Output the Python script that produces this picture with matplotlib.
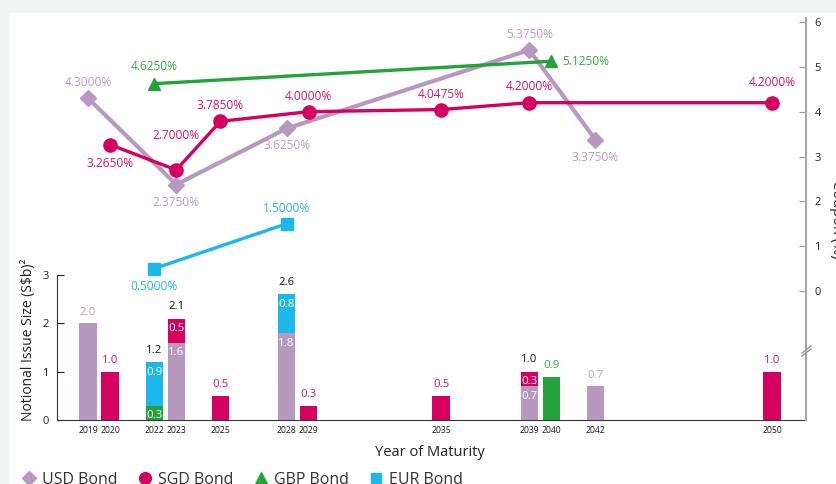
import numpy as np
import matplotlib.pyplot as plt
from matplotlib.lines import Line2D
from matplotlib.patches import Rectangle

plt.rcParams['font.family'] = ['Open Sans', 'DejaVu Sans']

# notional issue size (S$b) by year of maturity
usd_bar_years = [2019, 2023, 2028, 2039, 2042]
usd_bar_vals = [2.0, 1.6, 1.8, 0.7, 0.7]
gbp_bar_years = [2022, 2040]
gbp_bar_vals = [0.3, 0.9]
sgd_bar_years = [2020, 2023, 2025, 2029, 2035, 2039, 2050]
sgd_bar_vals = [1.0, 0.5, 0.5, 0.3, 0.5, 0.3, 1.0]
eur_bar_years = [2022, 2028]
eur_bar_vals = [0.9, 0.8]

# coupon (%)
usd_cpn_years = [2019, 2023, 2028, 2039, 2042]
usd_cpn = [4.300, 2.375, 3.625, 5.375, 3.375]
sgd_cpn_years = [2020, 2023, 2025, 2029, 2035, 2039, 2050]
sgd_cpn = [3.265, 2.700, 3.785, 4.000, 4.0475, 4.200, 4.200]
gbp_cpn_years = [2022, 2040]
gbp_cpn = [4.625, 5.125]
eur_cpn_years = [2022, 2028]
eur_cpn = [0.500, 1.500]

tick_years = [2019, 2020, 2022, 2023, 2025, 2028, 2029, 2035, 2039, 2040, 2042, 2050]

USD = '#b799c0'
SGD = '#d5005f'
GBP = '#23a33a'
EUR = '#1cb8ea'
USD_T = '#b99dc4'
SGD_T = '#dc1369'
GBP_T = '#3aa93c'
EUR_T = '#22b6ea'

W, H = 836, 484
fig = plt.figure(figsize=(W / 100, H / 100), dpi=100, facecolor='#f2f4f4')
fig.add_artist(Rectangle((9 / W, 0), 1, 1 - 13 / H, transform=fig.transFigure,
                         facecolor='white', edgecolor='none', zorder=-10))

ax = fig.add_axes([57 / W, 1 - 420 / H, (806 - 57) / W, (420 - 18) / H])
ax.set_facecolor('none')
pxy = (772 - 88) / 31
ax.set_xlim(2019 - 31 / pxy, 2050 + 34 / pxy)
ax.set_ylim(0, 402 / 48.33)

# -----------------------------
# stacked bars
# -----------------------------
bw = 0.78
bottoms = {}
segs = {}
for years, vals, col in [(usd_bar_years, usd_bar_vals, USD),
                         (gbp_bar_years, gbp_bar_vals, GBP),
                         (sgd_bar_years, sgd_bar_vals, SGD),
                         (eur_bar_years, eur_bar_vals, EUR)]:
    b = [bottoms.get(y, 0) for y in years]
    ax.bar(years, vals, bw, bottom=b, color=col, zorder=2)
    for y, v, b0 in zip(years, vals, b):
        segs.setdefault(y, []).append((v, b0, col))
        bottoms[y] = b0 + v

label_col = {USD: USD_T, SGD: SGD_T, GBP: GBP_T, EUR: EUR_T}
for y, parts in segs.items():
    if len(parts) == 1:
        v, b0, col = parts[0]
        ax.annotate(f'{v:.1f}', (y, v), xytext=(0, 11), textcoords='offset pixels',
                    ha='center', va='center', fontsize=8.2, color=label_col[col])
    else:
        for v, b0, col in parts:
            ax.annotate(f'{v:.1f}', (y, b0 + v), xytext=(0, -10), textcoords='offset pixels',
                        ha='center', va='center', fontsize=8.2, color='white')
        tot = bottoms[y]
        ax.annotate(f'{tot:.1f}', (y, tot), xytext=(0, 12), textcoords='offset pixels',
                    ha='center', va='center', fontsize=8.2, color='#1a1a1a')

ax.set_xticks(tick_years)
ax.set_xticklabels([str(y) for y in tick_years], fontsize=6.2, color='#1a1a1a')
ax.tick_params(axis='x', length=0, pad=4)
ax.set_yticks([0, 1, 2, 3])
ax.tick_params(axis='y', direction='in', length=5, labelsize=8, colors='#222222', pad=6)
ax.spines['left'].set_bounds(0, 3)
ax.spines['left'].set_color('#333333')
ax.spines['bottom'].set_color('#333333')
ax.spines['top'].set_visible(False)
ax.spines['right'].set_visible(False)

# -----------------------------
# coupon lines
# -----------------------------
ax2 = ax.twinx()
ax2.set_ylim(-129 / 44.83, 273 / 44.83)
ax2.plot(usd_cpn_years, usd_cpn, color=USD, lw=3.0, marker='D', markersize=8, zorder=3)
ax2.plot(sgd_cpn_years, sgd_cpn, color=SGD, lw=2.4, marker='o', markersize=9.5, zorder=4)
ax2.plot(gbp_cpn_years, gbp_cpn, color=GBP, lw=2.4, marker='^', markersize=9, zorder=3)
ax2.plot(eur_cpn_years, eur_cpn, color=EUR, lw=2.4, marker='s', markersize=8.5, zorder=3)

usd_off = [(0, 16), (0, -18), (0, -17), (0, 16), (0, -18)]
sgd_off = [(0, -19), (0, 34), (0, 16), (0, 15), (0, 15), (0, 16), (0, 20)]
gbp_off = [(0, 17), (11, 0)]
eur_off = [(0, -18), (0, 15)]
for years, cpn, offs, col in [(usd_cpn_years, usd_cpn, usd_off, USD_T),
                              (sgd_cpn_years, sgd_cpn, sgd_off, SGD_T),
                              (gbp_cpn_years, gbp_cpn, gbp_off, GBP_T),
                              (eur_cpn_years, eur_cpn, eur_off, EUR_T)]:
    for y, c, (dx, dy) in zip(years, cpn, offs):
        ax2.annotate(f'{c:.4f}%', (y, c), xytext=(dx, dy), textcoords='offset pixels',
                     ha='left' if dx else 'center', va='center', fontsize=8.6, color=col)

ax2.set_yticks(range(7))
ax2.tick_params(axis='y', direction='in', length=5, labelsize=8, colors='#222222',
                color='#999999', pad=6)
ax2.spines['right'].set_color('#a6a6a6')
ax2.spines['right'].set_linewidth(1.5)
for s in ['left', 'top', 'bottom']:
    ax2.spines[s].set_visible(False)

# axis break on the right spine
for d in [0, 3]:
    fig.add_artist(Line2D([802 / W, 811 / W], [1 - (353 + d) / H, 1 - (346 + d) / H],
                          color='#999999', lw=1))

# axis titles
fig.text(430 / W, 1 - 452 / H, 'Year of Maturity', ha='center', va='center',
         fontsize=10.5, color='#222222')
fig.text(29 / W, 1 - 340 / H, 'Notional Issue Size (S\\$b)²', rotation=90,
         ha='center', va='center', fontsize=10, color='#222222')
fig.text(829 / W, 1 - 219 / H, 'Coupon (%)', rotation=270, ha='left', va='center',
         fontsize=10.5, color='#222222')

# legend
handles = [Line2D([], [], ls='none', marker='D', color=USD, markersize=7.5),
           Line2D([], [], ls='none', marker='o', color=SGD, markersize=8.5),
           Line2D([], [], ls='none', marker='^', color=GBP, markersize=8.5),
           Line2D([], [], ls='none', marker='s', color=EUR, markersize=7.5)]
fig.legend(handles, ['USD Bond', 'SGD Bond', 'GBP Bond', 'EUR Bond'],
           loc='center left', bbox_to_anchor=(21 / W, 1 - 480 / H), ncol=4,
           frameon=False, fontsize=11.5, handlelength=1.0, handletextpad=0.3,
           columnspacing=1.24, borderpad=0, borderaxespad=0, labelcolor='#333333')

fig.savefig('out.png', dpi=100, facecolor=fig.get_facecolor())
